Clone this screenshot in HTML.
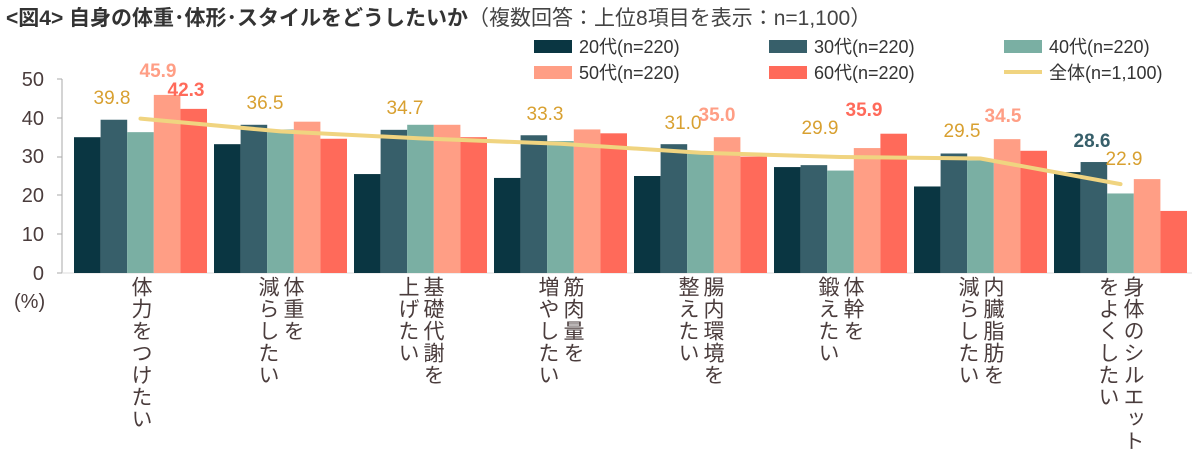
<!DOCTYPE html>
<html><head><meta charset="utf-8"><style>
body{margin:0;background:#fff;width:1200px;height:457px;overflow:hidden;position:relative;font-family:"Liberation Sans","Noto Sans CJK JP",sans-serif;}
.cat{position:absolute;top:276px;writing-mode:vertical-rl;font-size:21px;line-height:25px;color:#4a3c3c;letter-spacing:1px;}
</style></head><body>
<svg width="1200" height="457" style="position:absolute;left:0;top:0" font-family="Liberation Sans, Noto Sans CJK JP, sans-serif">
<text x="6" y="25" font-size="21" font-weight="bold" fill="#333">&lt;図4&gt; 自身の体重･体形･スタイルをどうしたいか<tspan font-weight="normal" fill="#444">（複数回答：上位8項目を表示：n=1,100）</tspan></text>
<g font-size="18" fill="#333">
<rect x="534" y="40" width="38" height="13" fill="#0a3642"/><text x="579" y="53">20代(n=220)</text>
<rect x="769" y="40" width="38" height="13" fill="#375f6a"/><text x="814" y="53">30代(n=220)</text>
<rect x="1004" y="40" width="38" height="13" fill="#7aafa3"/><text x="1049" y="53">40代(n=220)</text>
<rect x="534" y="66" width="38" height="13" fill="#ff9e85"/><text x="579" y="79">50代(n=220)</text>
<rect x="769" y="66" width="38" height="13" fill="#ff6a5a"/><text x="814" y="79">60代(n=220)</text>
<line x1="1004" y1="72" x2="1042" y2="72" stroke="#f0d480" stroke-width="4"/><text x="1049" y="79">全体(n=1,100)</text>
</g>
<g font-size="20" fill="#4a3c3c" text-anchor="end">
<text x="44" y="86">50</text><text x="44" y="125">40</text><text x="44" y="163">30</text><text x="44" y="202">20</text><text x="44" y="241">10</text><text x="44" y="280">0</text>
</g>
<text x="14" y="308" font-size="20" fill="#4a3c3c">(%)</text>
<line x1="62" y1="79" x2="62" y2="273" stroke="#aaa"/>
<g stroke="#aaa"><line x1="57" y1="79" x2="62" y2="79"/><line x1="57" y1="118" x2="62" y2="118"/><line x1="57" y1="157" x2="62" y2="157"/><line x1="57" y1="195" x2="62" y2="195"/><line x1="57" y1="234" x2="62" y2="234"/><line x1="57" y1="273" x2="62" y2="273"/></g>
<line x1="62" y1="273" x2="1192" y2="273" stroke="#ddd"/>
<g transform="translate(0,273) scale(1,-3.88)">
<g fill="#0a3642"><rect x="74" width="26.6" height="35.0"/><rect x="214" width="26.6" height="33.2"/><rect x="354" width="26.6" height="25.5"/><rect x="494" width="26.6" height="24.5"/><rect x="634" width="26.6" height="25.0"/><rect x="774" width="26.6" height="27.3"/><rect x="914" width="26.6" height="22.3"/><rect x="1054" width="26.6" height="26.0"/></g>
<g fill="#375f6a"><rect x="100.6" width="26.6" height="39.5"/><rect x="240.6" width="26.6" height="38.2"/><rect x="380.6" width="26.6" height="36.9"/><rect x="520.6" width="26.6" height="35.5"/><rect x="660.6" width="26.6" height="33.2"/><rect x="800.6" width="26.6" height="27.8"/><rect x="940.6" width="26.6" height="30.8"/><rect x="1080.6" width="26.6" height="28.6"/></g>
<g fill="#7aafa3"><rect x="127.2" width="26.6" height="36.3"/><rect x="267.2" width="26.6" height="37.0"/><rect x="407.2" width="26.6" height="38.2"/><rect x="547.2" width="26.6" height="34.0"/><rect x="687.2" width="26.6" height="31.0"/><rect x="827.2" width="26.6" height="26.4"/><rect x="967.2" width="26.6" height="29.0"/><rect x="1107.2" width="26.6" height="20.5"/></g>
<g fill="#ff9e85"><rect x="153.8" width="26.6" height="45.9"/><rect x="293.8" width="26.6" height="39.0"/><rect x="433.8" width="26.6" height="38.2"/><rect x="573.8" width="26.6" height="37.0"/><rect x="713.8" width="26.6" height="35.0"/><rect x="853.8" width="26.6" height="32.2"/><rect x="993.8" width="26.6" height="34.5"/><rect x="1133.8" width="26.6" height="24.2"/></g>
<g fill="#ff6a5a"><rect x="180.4" width="26.6" height="42.3"/><rect x="320.4" width="26.6" height="34.6"/><rect x="460.4" width="26.6" height="35.0"/><rect x="600.4" width="26.6" height="36.0"/><rect x="740.4" width="26.6" height="30.0"/><rect x="880.4" width="26.6" height="35.9"/><rect x="1020.4" width="26.6" height="31.5"/><rect x="1160.4" width="26.6" height="16.0"/></g>
</g>
<polyline fill="none" stroke="#f0d480" stroke-width="4" stroke-linecap="round" points="140.5,118.6 280.5,131.4 420.5,138.4 560.5,143.8 700.5,152.7 840.5,157 980.5,158.5 1120.5,184.1"/>
<g font-size="19" fill="#d8a030" text-anchor="middle">
<text x="112" y="104">39.8</text><text x="265" y="109">36.5</text><text x="405" y="114">34.7</text><text x="545" y="120">33.3</text><text x="683" y="129">31.0</text><text x="820" y="134">29.9</text><text x="962" y="137">29.5</text><text x="1124" y="165">22.9</text>
</g>
<g font-size="19" font-weight="bold" text-anchor="middle">
<text x="158" y="77" fill="#ff9e85">45.9</text><text x="186" y="96" fill="#ff6a5a">42.3</text>
<text x="717" y="121" fill="#ff9e85">35.0</text><text x="864" y="116" fill="#ff6a5a">35.9</text><text x="1003" y="122" fill="#ff9e85">34.5</text><text x="1092" y="147" fill="#375f6a">28.6</text>
</g>
</svg>
<div class="cat" style="left:128px">体力をつけたい</div>
<div class="cat" style="left:255px">体重を<br>減らしたい</div>
<div class="cat" style="left:395px">基礎代謝を<br>上げたい</div>
<div class="cat" style="left:535px">筋肉量を<br>増やしたい</div>
<div class="cat" style="left:675px">腸内環境を<br>整えたい</div>
<div class="cat" style="left:815px">体幹を<br>鍛えたい</div>
<div class="cat" style="left:955px">内臓脂肪を<br>減らしたい</div>
<div class="cat" style="left:1095px">身体のシルエット<br>をよくしたい</div>
</body></html>
